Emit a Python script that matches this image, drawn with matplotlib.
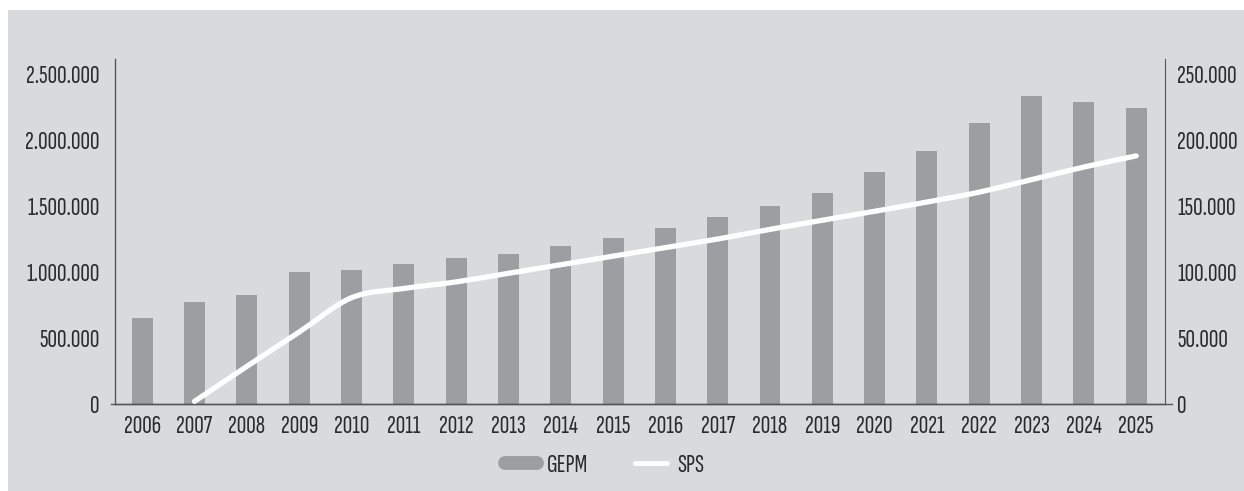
import numpy as np
import matplotlib.pyplot as plt
from matplotlib.path import Path
from matplotlib.patches import PathPatch, Rectangle
from matplotlib.lines import Line2D

# data
years = [str(y) for y in range(2006, 2026)]
gepm = [650000, 775000, 828000, 1000000, 1015000, 1058000, 1108000, 1136000,
        1200000, 1258000, 1333000, 1417000, 1500000, 1595000, 1755000,
        1914000, 2130000, 2330000, 2290000, 2240000]
sps_years = years[1:]
sps = [2000, 28500, 54500, 80500, 87500, 92500, 99000, 105500, 112000,
       118500, 125000, 132300, 139200, 146000, 153000, 160500, 170000,
       179500, 188000]
left_ticks = [0, 500000, 1000000, 1500000, 2000000, 2500000]
left_labels = ["0", "500.000", "1.000.000", "1.500.000", "2.000.000", "2.500.000"]
right_ticks = [0, 50000, 100000, 150000, 200000, 250000]
right_labels = ["0", "50.000", "100.000", "150.000", "200.000", "250.000"]

plt.rcParams['font.family'] = ['Sofia Sans Extra Condensed', 'DejaVu Sans']
txt = '#2b2b2b'
bg = '#d9dadc'
bar_col = '#9d9ea2'
spine_col = '#555555'
fs = 19

fig = plt.figure(figsize=(12.44, 4.91), dpi=100, facecolor='white')
fig.patches.append(Rectangle((8/1244, 0), 1, 1 - 10/491, transform=fig.transFigure,
                             facecolor=bg, edgecolor='none', zorder=-10))

ax = fig.add_axes([115/1244, 1 - 404/491, 1050/1244, 345/491])
ax.set_facecolor('none')
x = np.arange(len(years))
ax.bar(x, gepm, width=0.4, color=bar_col, zorder=2)
ax.set_xlim(-0.52, len(years) - 1 + 0.55)
ax.set_ylim(0, 2500000 * 345 / 330)
ax.set_xticks(x)
ax.set_xticklabels(years)
ax.set_yticks(left_ticks)
ax.set_yticklabels(left_labels)
ax.tick_params(axis='both', length=0, labelsize=fs, colors=txt)
ax.tick_params(axis='x', pad=8)
ax.tick_params(axis='y', pad=11)
for s in ['top', 'right']:
    ax.spines[s].set_visible(False)
for s in ['left', 'bottom']:
    ax.spines[s].set_color(spine_col)
    ax.spines[s].set_linewidth(1.0)
ax.axhline(0, xmin=-0.004, xmax=1.007, color=spine_col, lw=1.0, clip_on=False)

ax2 = ax.twinx()
ax2.set_ylim(0, 250000 * 345 / 330)
ax2.set_yticks(right_ticks)
ax2.set_yticklabels(right_labels)
ax2.tick_params(axis='y', length=0, labelsize=fs, colors=txt, pad=9)
for s in ['top', 'left', 'bottom']:
    ax2.spines[s].set_visible(False)
ax2.spines['right'].set_color(spine_col)

# smooth line (cubic bezier through the points)
px = np.array([years.index(y) for y in sps_years], dtype=float)
py = np.array(sps, dtype=float)
pts = np.column_stack([px, py])
verts = [pts[0]]
codes = [Path.MOVETO]
n = len(pts)
for i in range(n - 1):
    p0 = pts[max(i - 1, 0)]
    p1 = pts[i]
    p2 = pts[i + 1]
    p3 = pts[min(i + 2, n - 1)]
    c1 = p1 + (p2 - p0) / 6
    c2 = p2 - (p3 - p1) / 6
    verts += [c1, c2, p2]
    codes += [Path.CURVE4] * 3
ax2.add_patch(PathPatch(Path(verts, codes), facecolor='none', edgecolor='white',
                        lw=3.8, capstyle='round', joinstyle='round', zorder=3))

handles = [Line2D([], [], color=bar_col, lw=10, solid_capstyle='round'),
           Line2D([], [], color='white', lw=3.5, solid_capstyle='round')]
fig.legend(handles, ['GEPM', 'SPS'], loc='center', bbox_to_anchor=(0.486, 1 - 465/491),
           ncol=2, frameon=False, fontsize=fs, handlelength=1.21, handletextpad=0.38,
           columnspacing=1.78, labelcolor=txt)

fig.savefig('out.png', dpi=100, facecolor='white')
